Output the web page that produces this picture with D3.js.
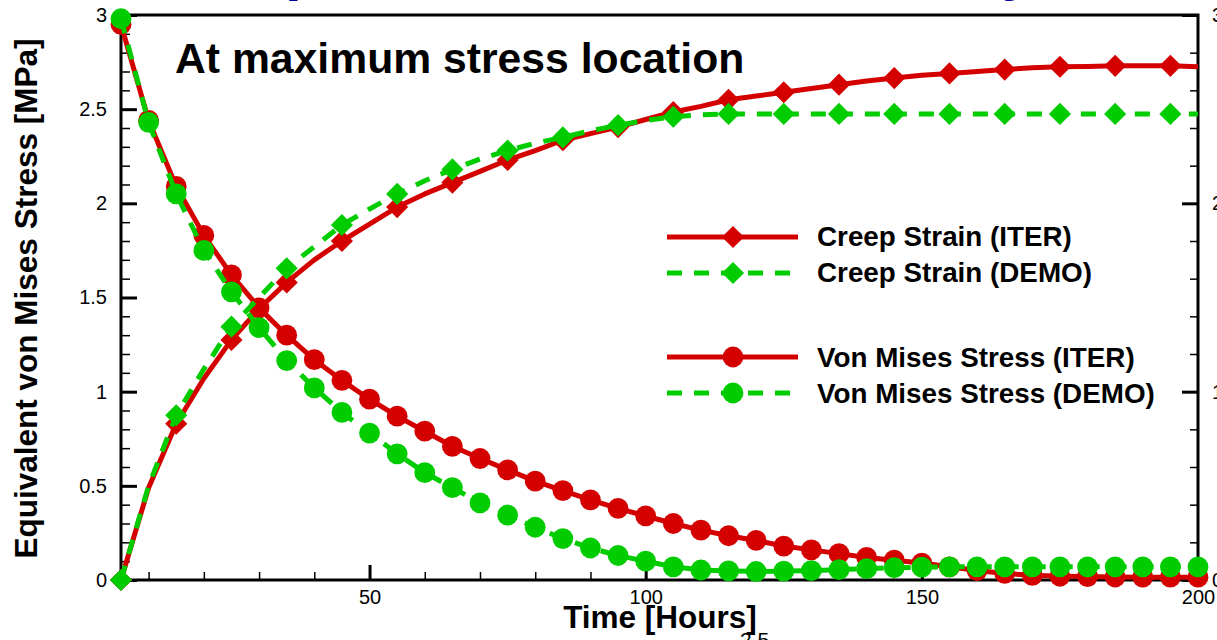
<!DOCTYPE html>
<html>
<head>
<meta charset="utf-8">
<script src="https://cdn.jsdelivr.net/npm/d3@7"></script>
<style>
  html, body { margin: 0; padding: 0; background: #fff; overflow: hidden; }
  svg { display: block; font-family: "Liberation Sans", Arial, sans-serif; }
</style>
</head>
<body>
<svg id="chart" width="1217" height="640"></svg>
<script>
// Time axis (hours)
const hours = [5, 10, 15, 20, 25, 30, 35, 40, 45, 50, 55, 60, 65, 70, 75, 80, 85, 90, 95, 100,
               105, 110, 115, 120, 125, 130, 135, 140, 145, 150, 155, 160, 165, 170, 175, 180, 185, 190, 195, 200];

// Equivalent von Mises stress [MPa]
const stressITER = [2.95, 2.44, 2.09, 1.83, 1.62, 1.445, 1.30, 1.17, 1.06, 0.96,
                    0.87, 0.79, 0.71, 0.645, 0.585, 0.525, 0.475, 0.425, 0.38, 0.34,
                    0.30, 0.265, 0.235, 0.21, 0.18, 0.16, 0.14, 0.12, 0.105, 0.09,
                    0.07, 0.05, 0.035, 0.025, 0.02, 0.018, 0.016, 0.015, 0.015, 0.015];
const stressDEMO = [2.98, 2.43, 2.05, 1.75, 1.53, 1.34, 1.165, 1.02, 0.89, 0.78,
                    0.67, 0.57, 0.49, 0.41, 0.345, 0.28, 0.22, 0.17, 0.13, 0.10,
                    0.07, 0.053, 0.048, 0.045, 0.047, 0.05, 0.055, 0.06, 0.065, 0.068,
                    0.07, 0.07, 0.07, 0.07, 0.07, 0.07, 0.07, 0.07, 0.07, 0.07];

// Creep strain (right-hand scale)
const creepITER = [0, 0.49, 0.83, 1.07, 1.275, 1.44, 1.58, 1.70, 1.80, 1.89,
                   1.98, 2.05, 2.11, 2.17, 2.23, 2.28, 2.335, 2.37, 2.405, 2.445,
                   2.485, 2.515, 2.55, 2.57, 2.59, 2.61, 2.63, 2.65, 2.665, 2.68,
                   2.69, 2.70, 2.71, 2.72, 2.725, 2.727, 2.73, 2.73, 2.73, 2.725];
const creepDEMO = [0, 0.50, 0.875, 1.12, 1.345, 1.50, 1.655, 1.77, 1.885, 1.97,
                   2.05, 2.12, 2.18, 2.235, 2.28, 2.32, 2.35, 2.385, 2.415, 2.44,
                   2.46, 2.47, 2.475, 2.475, 2.475, 2.475, 2.475, 2.475, 2.475, 2.475,
                   2.475, 2.475, 2.475, 2.475, 2.475, 2.475, 2.475, 2.475, 2.475, 2.475];

// Tick values
const xMajorTicks = [50, 100, 150, 200];
const xMinorTicks = [10, 20, 30, 40, 60, 70, 80, 90, 110, 120, 130, 140, 160, 170, 180, 190];
const yLeftMajor = [0, 0.5, 1, 1.5, 2, 2.5, 3];
const yLeftMinor = [0.1, 0.2, 0.3, 0.4, 0.6, 0.7, 0.8, 0.9, 1.1, 1.2, 1.3, 1.4, 1.6, 1.7, 1.8, 1.9,
                    2.1, 2.2, 2.3, 2.4, 2.6, 2.7, 2.8, 2.9];
const yRightMajor = [0, 1, 2, 3];
const yRightMinor = [0.2, 0.4, 0.6, 0.8, 1.2, 1.4, 1.6, 1.8, 2.2, 2.4, 2.6, 2.8];

const legendLabels = ["Creep Strain (ITER)", "Creep Strain (DEMO)", "Von Mises Stress (ITER)", "Von Mises Stress (DEMO)"];

const RED = "#d40000";
const GREEN = "#00cc00";

const svg = d3.select("#chart");
const plot = { left: 121, right: 1198, top: 15, bottom: 580 };

const x = d3.scaleLinear().domain([5, 200]).range([plot.left, plot.right]);
const yL = d3.scaleLinear().domain([0, 3]).range([plot.bottom, plot.top]);
const yR = d3.scaleLinear().domain([0, 3]).range([plot.bottom, plot.top]);

// partially visible slide heading above the plot
svg.append("text")
  .attr("x", 157).attr("y", -11)
  .attr("font-size", 60).attr("font-weight", "bold").attr("font-style", "italic")
  .attr("fill", "#000099")
  .text("Creep strain and stress history");

// Axes
function styleAxis(g, major) {
  g.select(".domain").remove();
  g.selectAll(".tick line").attr("stroke", "#000").attr("stroke-width", major ? 3 : 1.5);
  g.selectAll(".tick text").attr("font-size", 20).attr("fill", "#000")
    .attr("font-family", "'Liberation Sans', Arial, sans-serif");
}

svg.append("g").attr("transform", `translate(0,${plot.bottom})`)
  .call(d3.axisBottom(x).tickValues(xMinorTicks).tickFormat("").tickSizeInner(-8).tickSizeOuter(0))
  .call(g => styleAxis(g, false));
svg.append("g").attr("transform", `translate(0,${plot.bottom})`)
  .call(d3.axisBottom(x).tickValues(xMajorTicks).tickFormat(d3.format("d")).tickSizeInner(-15).tickSizeOuter(0).tickPadding(10))
  .call(g => styleAxis(g, true));

svg.append("g").attr("transform", `translate(${plot.left},0)`)
  .call(d3.axisLeft(yL).tickValues(yLeftMinor).tickFormat("").tickSizeInner(-9).tickSizeOuter(0))
  .call(g => styleAxis(g, false));
svg.append("g").attr("transform", `translate(${plot.left},0)`)
  .call(d3.axisLeft(yL).tickValues(yLeftMajor).tickFormat(d => d3.format("")(d)).tickSizeInner(-16).tickSizeOuter(0).tickPadding(14))
  .call(g => styleAxis(g, true));

svg.append("g").attr("transform", `translate(${plot.right},0)`)
  .call(d3.axisRight(yR).tickValues(yRightMinor).tickFormat("").tickSizeInner(-8).tickSizeOuter(0))
  .call(g => styleAxis(g, false));
svg.append("g").attr("transform", `translate(${plot.right},0)`)
  .call(d3.axisRight(yR).tickValues(yRightMajor).tickFormat(d3.format("d")).tickSizeInner(-16).tickSizeOuter(0).tickPadding(14))
  .call(g => styleAxis(g, true));

// Frame
svg.append("rect")
  .attr("x", plot.left).attr("y", plot.top)
  .attr("width", plot.right - plot.left).attr("height", plot.bottom - plot.top)
  .attr("fill", "none").attr("stroke", "#000").attr("stroke-width", 3);

// Axis titles
svg.append("text")
  .attr("transform", `translate(37,${(plot.top + plot.bottom) / 2 + 1}) rotate(-90)`)
  .attr("text-anchor", "middle")
  .attr("font-size", 31.5).attr("font-weight", "bold")
  .text("Equivalent von Mises Stress [MPa]");

svg.append("text")
  .attr("x", 660).attr("y", 628)
  .attr("text-anchor", "middle")
  .attr("font-size", 31.5).attr("font-weight", "bold")
  .text("Time [Hours]");

svg.append("text")
  .attr("x", 740).attr("y", 647)
  .attr("font-size", 21)
  .text("2.5");

svg.append("text")
  .attr("x", 175).attr("y", 73)
  .attr("font-size", 42.7).attr("font-weight", "bold")
  .text("At maximum stress location");

// Series
const diamond = d3.symbol().type(d3.symbolSquare).size(245);
const circle = d3.symbol().type(d3.symbolCircle).size(340);

const series = [
  { values: creepITER, scale: yR, color: RED, dash: null, shape: "diamond", label: legendLabels[0] },
  { values: stressITER, scale: yL, color: RED, dash: null, shape: "circle", label: legendLabels[2] },
  { values: creepDEMO, scale: yR, color: GREEN, dash: "15,12", shape: "diamond", label: legendLabels[1] },
  { values: stressDEMO, scale: yL, color: GREEN, dash: "15,12", shape: "circle", label: legendLabels[3] }
];

series.forEach(s => {
  const pts = hours.map((h, i) => [h, s.values[i]]);
  const line = d3.line().x(d => x(d[0])).y(d => s.scale(d[1]));
  svg.append("path")
    .attr("d", line(pts))
    .attr("fill", "none")
    .attr("stroke", s.color)
    .attr("stroke-width", 5)
    .attr("stroke-linejoin", "round")
    .attr("stroke-dasharray", s.dash);
  const marked = s.shape === "diamond" ? pts.filter(d => d[0] % 10 === 5) : pts;
  svg.append("g").selectAll("path")
    .data(marked)
    .join("path")
    .attr("transform", d => s.shape === "diamond"
      ? `translate(${x(d[0])},${s.scale(d[1])}) rotate(45)`
      : `translate(${x(d[0])},${s.scale(d[1])})`)
    .attr("d", s.shape === "diamond" ? diamond() : circle())
    .attr("fill", s.color);
});

// Legend
const legendRows = [
  { s: series[0], y: 237, ty: 246 },
  { s: series[2], y: 273, ty: 282 },
  { s: series[1], y: 357, ty: 367 },
  { s: series[3], y: 393, ty: 403 }
];
const lg = svg.append("g");
legendRows.forEach(r => {
  lg.append("line")
    .attr("x1", 667).attr("x2", 798).attr("y1", r.y).attr("y2", r.y)
    .attr("stroke", r.s.color).attr("stroke-width", 5)
    .attr("stroke-dasharray", r.s.dash);
  lg.append("path")
    .attr("transform", r.s.shape === "diamond" ? `translate(733,${r.y}) rotate(45)` : `translate(733,${r.y})`)
    .attr("d", r.s.shape === "diamond" ? diamond() : circle())
    .attr("fill", r.s.color);
  lg.append("text")
    .attr("x", 817).attr("y", r.ty)
    .attr("font-size", 27.8).attr("font-weight", "bold")
    .text(r.s.label);
});
</script>
</body>
</html>
